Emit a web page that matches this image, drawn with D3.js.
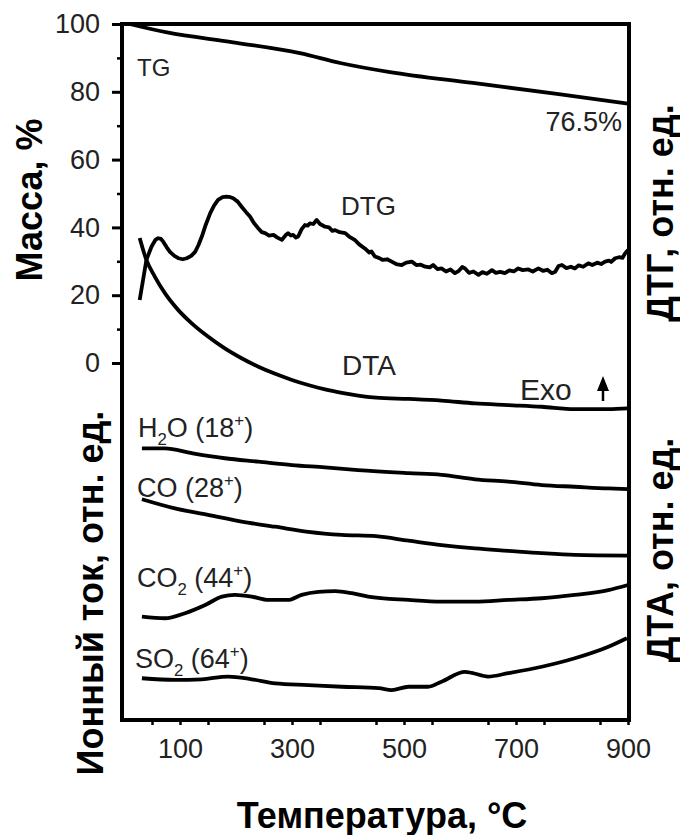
<!DOCTYPE html>
<meta charset="utf-8">
<style>
body {
	margin: 0;
	background: #fff;
}
svg {
	display: block;
	font-family: "Liberation Sans", Arial, sans-serif;
}
.tick-label {
	font-size: 27px;
	fill: #222;
}
.curve-label {
	fill: #222;
}
.title {
	font-size: 36px;
	font-weight: bold;
	fill: #000;
}
</style>
<body>
<svg width="680" height="835"></svg>
<script src="https://d3js.org/d3.v7.min.js"></script>
<script>

// temperature, °C  ->  value
var tg = [[10,100],[77,97.5],[195,94.6],[314,91.4],[386,88.5],[475,85.8],[623,82.6],[773,79.4],[900,76.5]];

var dtg = [[28,18.6],[34,24.5],[40,30.4],[49,34.3],[56,36.3],[61,36.8],[66,36.6],[70,35.8],[76,34.2],[82,32.8],[90,31.6],[97,30.9],[105,30.6],[112,30.9],[120,31.6],[127,32.8],[133,34.8],[139,37.3],[146,40.8],[154,44.2],[161,46.5],[168,48.1],[176,48.9],[183,49.1],[190,48.9],[195,48.6],[203,47.6],[210,46.1],[218,44.5],[225,43.2],[232,41.3],[240,39.7],[246,38.6],[252,38.3],[259,37.6],[267,37.8],[274,37.0],[282,36.3],[288,37.6],[293,38.3],[298,37.6],[302,37.8],[307,37.0],[311,37.3],[317,39.4],[323,40.7],[328,40.5],[332,41.2],[338,41.0],[344,42.2],[350,41.0],[359,40.2],[366,40.0],[372,39.0],[377,39.2],[385,38.6],[395,38.3],[402,37.3],[412,36.3],[420,35.0],[430,33.8],[438,32.6],[442,32.9],[448,31.4],[455,31.0],[462,30.4],[470,30.6],[478,29.9],[486,29.2],[496,28.9],[504,29.6],[514,29.9],[522,28.9],[530,29.0],[538,28.4],[546,28.2],[552,28.9],[560,27.7],[567,27.9],[575,27.0],[583,27.6],[591,26.5],[598,27.2],[604,28.3],[609,27.9],[616,26.6],[624,27.0],[633,26.0],[640,26.8],[648,26.3],[657,27.4],[664,26.6],[672,26.9],[680,26.5],[688,27.3],[696,27.0],[704,27.9],[712,27.4],[722,27.6],[730,27.0],[740,27.9],[748,27.2],[756,27.5],[764,26.5],[770,26.9],[776,28.6],[782,28.9],[790,28.0],[798,28.4],[805,27.9],[812,28.8],[820,28.4],[829,29.4],[836,28.9],[845,29.6],[852,29.2],[859,29.9],[866,30.2],[870,29.8],[877,30.9],[884,31.2],[890,31.0],[895,32.4],[900,33.3]];

var dta = [[28,36.9],[40,30.4],[55,25.5],[73,20.6],[97,15.6],[121,11.7],[150,7.8],[180,4.3],[210,1.4],[240,-1.1],[270,-3.2],[300,-5.0],[329,-6.5],[359,-7.8],[389,-8.8],[418,-9.6],[450,-10.2],[508,-10.6],[567,-11.1],[627,-11.9],[686,-12.4],[746,-12.9],[805,-13.6],[865,-13.6],[900,-13.4]];

// ion current, rel. units
var h2o = [[32,80.7],[73,80.7],[121,79.3],[180,77.8],[240,76.8],[300,75.8],[359,75.1],[418,74.3],[508,73.4],[567,72.9],[627,71.6],[686,70.9],[746,69.9],[805,69.4],[865,68.9],[900,68.7]];
var co = [[32,65.7],[91,63.0],[150,61.1],[210,59.1],[270,57.6],[329,56.1],[389,55.2],[450,54.8],[508,53.5],[567,52.2],[627,51.2],[686,50.5],[746,49.8],[805,49.3],[900,49.1]];
var co2 = [[32,31.1],[73,30.6],[109,32.1],[145,34.5],[175,37.0],[198,37.5],[228,37.0],[258,36.0],[293,36.0],[317,37.5],[347,38.4],[377,38.6],[407,38.0],[436,37.0],[508,36.0],[567,35.5],[627,35.5],[686,36.0],[746,36.5],[805,37.5],[865,38.9],[900,40.4]];
var so2 = [[32,12.9],[91,12.4],[139,12.6],[186,13.4],[228,12.6],[270,11.4],[329,10.9],[389,10.4],[455,10.0],[478,9.4],[508,10.4],[543,10.4],[567,11.9],[609,14.8],[621,14.5],[650,13.4],[686,14.4],[746,16.3],[805,18.8],[865,22.2],[898,24.7]];

var xTicks = [100, 300, 500, 700, 900];
var yTicks = [0, 20, 40, 60, 80, 100];

var frame = {left: 122, right: 629, top: 24, bottom: 720};

var svg = d3.select("svg");

var x = d3.scaleLinear().domain([0, 900]).range([124, 628]);
var y = d3.scaleLinear().domain([0, 100]).range([363, 24]);
var yIon = d3.scaleLinear().domain([0, 100]).range([722, 383]);

var lineMass = d3.line()
	.x(function(d) { return x(d[0]); })
	.y(function(d) { return y(d[1]); })
	.curve(d3.curveMonotoneX);

var lineIon = d3.line()
	.x(function(d) { return x(d[0]); })
	.y(function(d) { return yIon(d[1]); })
	.curve(d3.curveMonotoneX);

var lineRough = d3.line()
	.x(function(d) { return x(d[0]); })
	.y(function(d) { return y(d[1]); });

// curves
[[tg, lineMass], [dtg, lineRough], [dta, lineMass],
 [h2o, lineIon], [co, lineIon], [co2, lineIon], [so2, lineIon]].forEach(function(c) {
	svg.append("path")
		.attr("d", c[1](c[0]))
		.attr("fill", "none")
		.attr("stroke", "#000")
		.attr("stroke-width", 3.8)
		.attr("stroke-linejoin", "round");
});

// frame
svg.append("rect")
	.attr("x", frame.left)
	.attr("y", frame.top)
	.attr("width", frame.right - frame.left)
	.attr("height", frame.bottom - frame.top)
	.attr("fill", "none")
	.attr("stroke", "#000")
	.attr("stroke-width", 4);

// left axis
var yAxis = d3.axisLeft(y)
	.tickValues(yTicks)
	.tickSize(10)
	.tickPadding(12);

var ga = svg.append("g")
	.attr("transform", "translate(" + frame.left + ",0)")
	.call(yAxis);
ga.select(".domain").remove();
ga.selectAll(".tick line").attr("stroke", "#000").attr("stroke-width", 3);
ga.selectAll(".tick text")
	.attr("class", "tick-label")
	.attr("font-family", null)
	.attr("font-size", null);

var gm = svg.append("g")
	.attr("transform", "translate(" + frame.left + ",0)")
	.call(d3.axisLeft(y).tickValues([10, 30, 50, 70, 90]).tickSize(5).tickFormat(""));
gm.select(".domain").remove();
gm.selectAll(".tick line").attr("stroke", "#000").attr("stroke-width", 2.5);

// bottom axis
var xAxis = d3.axisBottom(x)
	.tickValues(xTicks)
	.tickSize(5)
	.tickPadding(14);

var gx = svg.append("g")
	.attr("transform", "translate(0," + frame.bottom + ")")
	.call(xAxis);
gx.select(".domain").remove();
gx.selectAll(".tick line").attr("stroke", "#000").attr("stroke-width", 2.5);
gx.selectAll(".tick text")
	.attr("class", "tick-label")
	.attr("font-family", null)
	.attr("font-size", null);

var gxm = svg.append("g")
	.attr("transform", "translate(0," + frame.bottom + ")")
	.call(d3.axisBottom(x).tickValues(d3.range(50, 900, 100)).tickSize(5).tickFormat(""));
gxm.select(".domain").remove();
gxm.selectAll(".tick line").attr("stroke", "#000").attr("stroke-width", 2.5);

// curve labels
function label(px, py, size, parts, anchor) {
	var t = svg.append("text")
		.attr("class", "curve-label")
		.attr("x", px)
		.attr("y", py)
		.attr("font-size", size)
		.attr("text-anchor", anchor || "start");
	var shift = 0;
	parts.forEach(function(p) {
		var s = typeof p === "string" ? [p, 0] : p;
		var target = s[1] === 0 ? 0 : (s[1] > 0 ? 0.3 * size : -0.4 * size);
		t.append("tspan")
			.attr("dy", target - shift)
			.attr("font-size", s[1] === 0 ? size : size * 0.62)
			.text(s[0]);
		shift = target;
	});
}

label(137, 76, 24, ["TG"]);
label(622, 131, 27, ["76.5%"], "end");
label(341, 215, 26, ["DTG"]);
label(342, 375, 28, ["DTA"]);
label(520, 400, 30, ["Exo"]);
label(138, 437, 27, ["H", ["2", 1], "O (18", ["+", -1], ")"]);
label(137, 497, 27, ["CO (28", ["+", -1], ")"]);
label(137, 587, 27, ["CO", ["2", 1], " (44", ["+", -1], ")"]);
label(135, 668, 27, ["SO", ["2", 1], " (64", ["+", -1], ")"]);

// exo arrow
svg.append("line")
	.attr("x1", 603).attr("y1", 401)
	.attr("x2", 603).attr("y2", 386)
	.attr("stroke", "#000").attr("stroke-width", 2.5);
svg.append("path")
	.attr("d", "M597,391 L603,376 L609,391 Z")
	.attr("fill", "#000");

// axis titles
svg.append("text").attr("class", "title")
	.attr("text-anchor", "middle")
	.attr("transform", "translate(42,200) rotate(-90)")
	.text("Масса, %");

svg.append("text").attr("class", "title")
	.attr("text-anchor", "middle")
	.attr("transform", "translate(103,593) rotate(-90)")
	.text("Ионный ток, отн. ед.");

svg.append("text").attr("class", "title")
	.attr("text-anchor", "middle")
	.attr("transform", "translate(673,213) rotate(-90)")
	.text("ДТГ, отн. ед.");

svg.append("text").attr("class", "title")
	.attr("text-anchor", "middle")
	.attr("transform", "translate(673,550) rotate(-90)")
	.text("ДТА, отн. ед.");

svg.append("text").attr("class", "title")
	.attr("text-anchor", "middle")
	.attr("x", 382)
	.attr("y", 828)
	.text("Температура, °C");

</script>
</body>
